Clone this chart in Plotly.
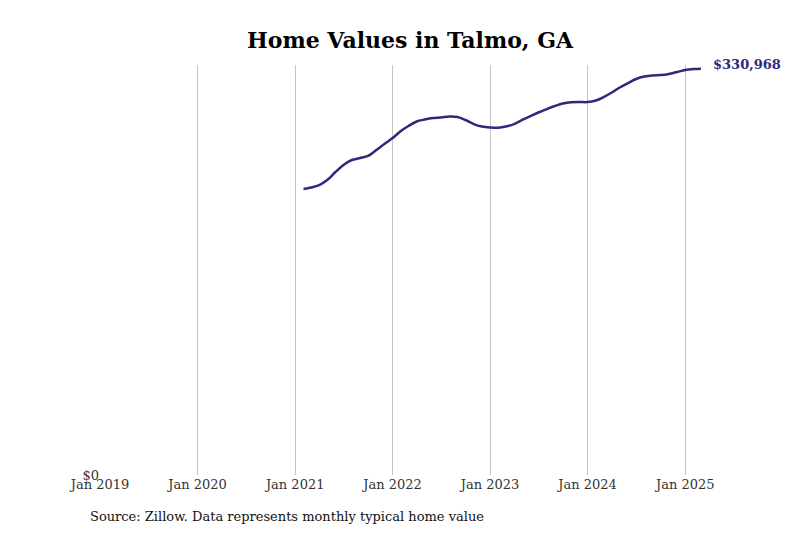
import plotly.graph_objects as go
import pandas as pd

# Monthly typical home value, Feb 2021 - Mar 2025
months = pd.date_range("2021-02-01", "2025-03-01", freq="MS")
values = [
    233000, 234200, 236200, 240300, 246800, 252500, 256600, 258200, 259900, 264700, 269600,
    274500, 280200, 284300, 288000, 289600, 290800, 291200, 292000, 291600, 289200, 285900, 283900,
    283100, 282900, 283900, 285900, 289200, 292400, 295300, 298100, 300600, 302600, 303600, 303800,
    303800, 305100, 307900, 311600, 315700, 319300, 322600, 324600, 325500, 325800, 326700, 328300,
    329900, 330700, 330968,
]
tick_vals = ["2019-01-01", "2020-01-01", "2021-01-01", "2022-01-01",
             "2023-01-01", "2024-01-01", "2025-01-01"]
tick_text = ["Jan 2019", "Jan 2020", "Jan 2021", "Jan 2022",
             "Jan 2023", "Jan 2024", "Jan 2025"]

line_color = "#2e2a7b"
serif = "DejaVu Serif"

fig = go.Figure()
fig.add_trace(go.Scatter(
    x=months, y=values, mode="lines",
    line=dict(color=line_color, width=2.5, shape="spline"),
    hoverinfo="skip", showlegend=False,
))

# end-of-line value label
fig.add_annotation(
    x=months[-1], y=values[-1], text=f"<b>${values[-1]:,}</b>",
    xanchor="left", yanchor="middle", xshift=10, yshift=4, showarrow=False,
    font=dict(family=serif, size=13, color=line_color),
)

# source note
fig.add_annotation(
    x=-0.02, y=-0.102, xref="paper", yref="paper", xanchor="left", yanchor="middle",
    text="Source: Zillow. Data represents monthly typical home value",
    showarrow=False, font=dict(family=serif, size=13, color="#111"),
)

# page body adds an 8px offset, so margins are shifted to compensate
fig.update_layout(
    width=800, height=533,
    margin=dict(l=92, r=107, t=57, b=66),
    paper_bgcolor="white", plot_bgcolor="white",
    font=dict(family=serif, color="#333"),
    title=dict(text="<b>Home Values in Talmo, GA</b>", x=0.5025, xanchor="center",
               y=0.94, yanchor="middle",
               font=dict(family=serif, size=22, color="black")),
)
fig.update_xaxes(
    range=["2019-01-01", "2025-03-01"],
    tickvals=tick_vals, ticktext=tick_text,
    showgrid=True, gridcolor="#c4c4c4", gridwidth=1,
    zeroline=False, showline=False, ticks="",
    tickfont=dict(family=serif, size=13, color="#333"),
)
fig.update_yaxes(
    range=[0, 334000], tickvals=[0], ticktext=["$0"],
    showgrid=False, zeroline=False, showline=False, ticks="",
    tickfont=dict(family=serif, size=13, color="#333"),
)

fig.write_html("out.html")
